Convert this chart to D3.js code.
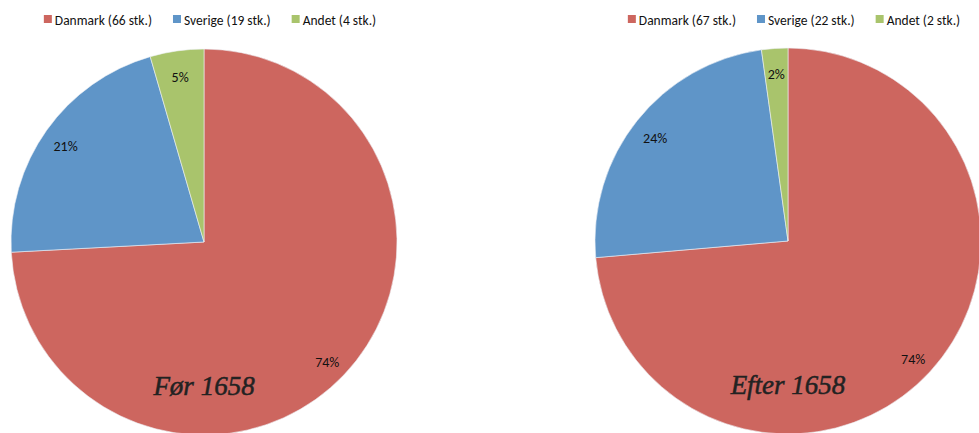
<!DOCTYPE html>
<html>
<head>
<meta charset="utf-8">
<script src="https://cdn.jsdelivr.net/npm/d3@7"></script>
<style>
  body { margin: 0; background: #fff; }
  svg { display: block; }
</style>
</head>
<body>
<div id="chart"></div>
<script>
// data for the two pies
var categories = ["Danmark", "Sverige", "Andet"];
var countsBefore = [66, 19, 4];
var countsAfter = [67, 22, 2];
var percentBefore = ["74%", "21%", "5%"];
var percentAfter = ["74%", "24%", "2%"];
var titles = ["Før 1658", "Efter 1658"];

var colors = ["#cd665f", "#5f95c8", "#a9c46c"];

var svgWidth = 979;
var svgHeight = 433;

var svg = d3.select("#chart").append("svg")
    .attr("width", svgWidth)
    .attr("height", svgHeight);

var color = d3.scaleOrdinal().domain(categories).range(colors);

var pies = [
    {counts: countsBefore, labels: percentBefore, title: titles[0], cx: 204, cy: 242},
    {counts: countsAfter, labels: percentAfter, title: titles[1], cx: 788, cy: 241}
];

var radius = 193;
var pie = d3.pie().sort(null).value(d => d.value);
var arc = d3.arc().innerRadius(0).outerRadius(radius);
var labelArc = d3.arc().innerRadius(radius * 0.88).outerRadius(radius * 0.88);

pies.forEach(function(p) {
    var data = categories.map((c, i) => ({name: c, value: p.counts[i], label: p.labels[i]}));

    var g = svg.append("g")
        .attr("transform", `translate(${p.cx}, ${p.cy})`);

    var slices = g.selectAll("g.slice")
        .data(pie(data))
        .enter()
        .append("g")
        .attr("class", "slice");

    slices.append("path")
        .attr("d", arc)
        .attr("fill", d => color(d.data.name))
        .attr("stroke", "#eef2f6")
        .attr("stroke-width", 0.6);

    slices.append("text")
        .attr("transform", d => `translate(${labelArc.centroid(d)})`)
        .attr("text-anchor", "middle")
        .attr("dy", "0.55em")
        .style("font-family", "Calibri, Carlito, Lato, sans-serif")
        .style("font-size", "14px")
        .style("fill", "#111")
        .text(d => d.data.label);

    // title inside the red slice
    g.append("text")
        .attr("x", 0)
        .attr("y", 153)
        .attr("text-anchor", "middle")
        .style("font-family", "Garamond, 'Liberation Serif', serif")
        .style("font-style", "italic")
        .style("font-size", "27px")
        .style("fill", "#222")
        .style("stroke", "#222")
        .style("stroke-width", 0.5)
        .text(p.title);

    // legend above the pie
    var legend = svg.append("g");
    var x = 0;
    categories.forEach(function(c, i) {
        var item = legend.append("g").attr("transform", `translate(${x}, 0)`);
        item.append("rect")
            .attr("x", 0)
            .attr("y", 15)
            .attr("width", 8)
            .attr("height", 8)
            .attr("fill", colors[i]);
        var t = item.append("text")
            .attr("x", 11)
            .attr("y", 25)
            .style("font-family", "Calibri, Carlito, Lato, sans-serif")
            .style("font-size", "13.5px")
            .style("fill", "#111")
            .text(`${c} (${p.counts[i]} stk.)`);
        x += 11 + t.node().getComputedTextLength() + 21;
    });
    var legendWidth = x - 21;
    legend.attr("transform", `translate(${p.cx + 6 - legendWidth / 2}, 0)`);
});
</script>
</body>
</html>
